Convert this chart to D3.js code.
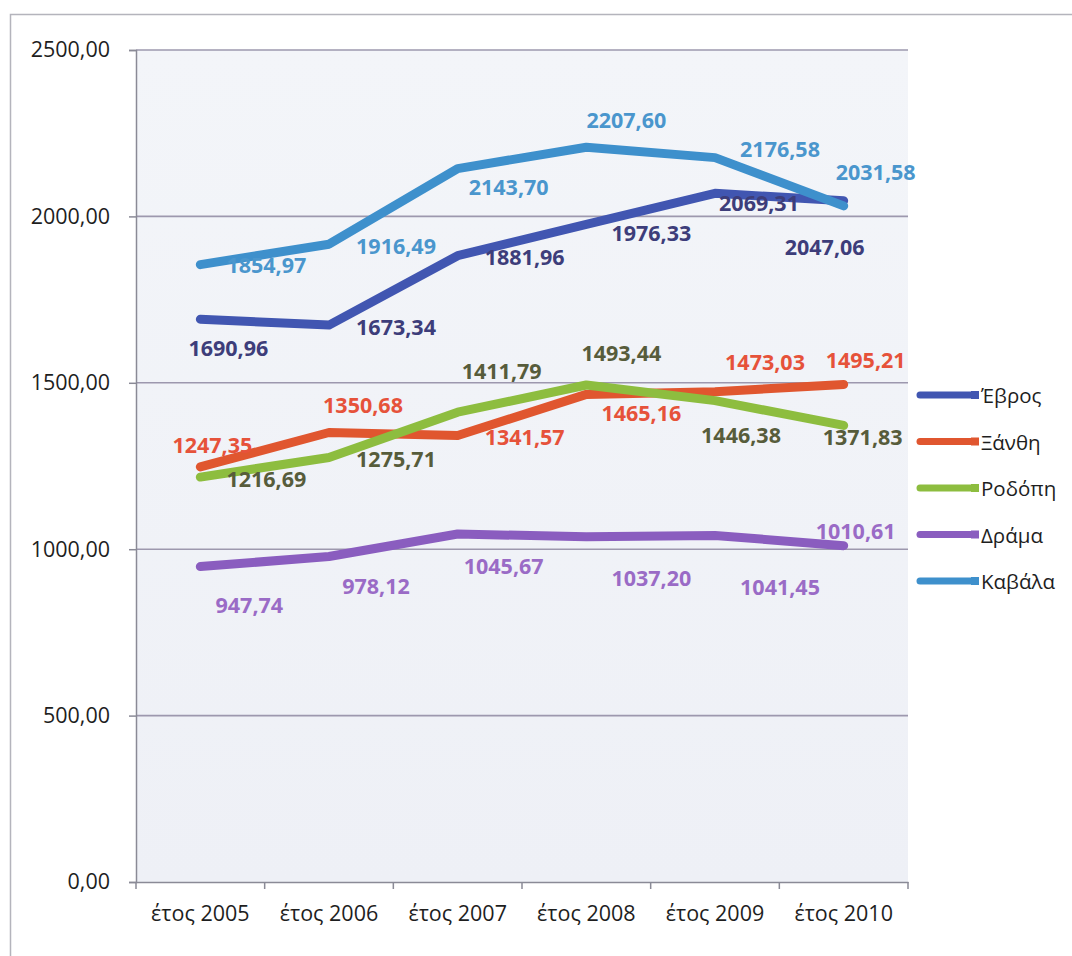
<!DOCTYPE html>
<html>
<head>
<meta charset="utf-8">
<script src="https://cdn.jsdelivr.net/npm/d3@7"></script>
<style>
  html, body { margin: 0; padding: 0; background: #fff; }
  svg { display: block; font-family: "Open Sans", "Noto Sans", sans-serif; }
</style>
</head>
<body>
<div id="chart"></div>
<script>
// κατηγορίες (άξονας x)
var years = ["έτος 2005", "έτος 2006", "έτος 2007", "έτος 2008", "έτος 2009", "έτος 2010"];
var yTicks = [0, 500, 1000, 1500, 2000, 2500];
var seriesNames = ["Έβρος", "Ξάνθη", "Ροδόπη", "Δράμα", "Καβάλα"];

// τιμές ανά νομό
var evros = [1690.96, 1673.34, 1881.96, 1976.33, 2069.31, 2047.06];
var xanthi = [1247.35, 1350.68, 1341.57, 1465.16, 1473.03, 1495.21];
var rodopi = [1216.69, 1275.71, 1411.79, 1493.44, 1446.38, 1371.83];
var drama = [947.74, 978.12, 1045.67, 1037.2, 1041.45, 1010.61];
var kavala = [1854.97, 1916.49, 2143.7, 2207.6, 2176.58, 2031.58];

var seriesValues = [evros, xanthi, rodopi, drama, kavala];

// χρώματα γραμμών και ετικετών
var lineColors = ["#4156b1", "#e0562f", "#8dbd3f", "#8a5dbf", "#3e90cc"];
var labelColors = ["#3d3d7a", "#e6523a", "#575c3b", "#9a6bc6", "#4a96cd"];

// μετατόπιση ετικετών (px) σε σχέση με το σημείο, όπως στο πρωτότυπο
var labelNudge = [
  [[28, 28], [67, 1], [67, 1], [65, 8], [44, 9], [-19, 46]],
  [[12, -22], [34, -28], [67, 1], [55, 18], [50, -30], [22, -25]],
  [[66, 1], [67, 1], [44, -42], [35, -32], [26, 34], [19, 11]],
  [[49, 38], [47, 29], [46, 31], [65, 41], [65, 51], [12, -15]],
  [[66, 0], [67, 1], [51, 18], [40, -28], [65, -9], [32, -34]]
];

var W = 1072, H = 956;
var plot = { left: 136, right: 908, top: 50, bottom: 882 };

var svg = d3.select("#chart").append("svg")
  .attr("width", W).attr("height", H);

// περίγραμμα
svg.append("rect")
  .attr("x", 10.5).attr("y", 14.5)
  .attr("width", W).attr("height", H)
  .attr("fill", "none").attr("stroke", "#b4b4bc").attr("stroke-width", 1.5);

var defs = svg.append("defs");
var grad = defs.append("linearGradient").attr("id", "bg")
  .attr("x1", 0).attr("y1", 0).attr("x2", 0).attr("y2", 1);
grad.append("stop").attr("offset", "0%").attr("stop-color", "#f3f5f9");
grad.append("stop").attr("offset", "100%").attr("stop-color", "#eef0f6");

svg.append("rect")
  .attr("x", plot.left).attr("y", plot.top)
  .attr("width", plot.right - plot.left).attr("height", plot.bottom - plot.top)
  .attr("fill", "url(#bg)");

var x = d3.scaleBand().domain(years).range([plot.left, plot.right]);
var y = d3.scaleLinear().domain([0, 2500]).range([plot.bottom, plot.top]);

// γραμμές πλέγματος
svg.append("g").selectAll("line")
  .data(yTicks.filter(function (d) { return d > 0; }))
  .join("line")
  .attr("x1", plot.left).attr("x2", plot.right)
  .attr("y1", function (d) { return y(d); })
  .attr("y2", function (d) { return y(d); })
  .attr("stroke", "#9d98ae").attr("stroke-width", 1.6);

// άξονας y
var yAxis = svg.append("g")
  .attr("transform", "translate(" + plot.left + ",0)")
  .call(d3.axisLeft(y).tickValues(yTicks).tickSize(7).tickPadding(19)
    .tickFormat(function (d) { return d3.format(".2f")(d).replace(".", ","); }));
yAxis.select(".domain").attr("stroke", "#8a8a96").attr("stroke-width", 1.5);
yAxis.selectAll(".tick line").attr("stroke", "#8a8a96").attr("stroke-width", 1.5);
yAxis.selectAll("text").attr("font-size", 21.5).attr("fill", "#1e1e1e")
  .attr("font-family", "Open Sans");

// άξονας x
var xAxis = svg.append("g")
  .attr("transform", "translate(0," + plot.bottom + ")")
  .call(d3.axisBottom(x).tickSize(0).tickPadding(24));
xAxis.select(".domain").attr("stroke", "#8a8a96").attr("stroke-width", 1.6);
xAxis.selectAll("text").attr("font-size", 21.5).attr("fill", "#1e1e1e")
  .attr("font-family", "Open Sans");
// υποδιαιρέσεις ανάμεσα στις κατηγορίες
xAxis.selectAll(".sep")
  .data(years.concat(["end"]))
  .join("line")
  .attr("class", "sep")
  .attr("x1", function (d, i) { return plot.left + i * x.step(); })
  .attr("x2", function (d, i) { return plot.left + i * x.step(); })
  .attr("y1", 0).attr("y2", 7)
  .attr("stroke", "#8a8a96").attr("stroke-width", 1.5);

var line = d3.line()
  .x(function (d, i) { return x(years[i]) + x.bandwidth() / 2; })
  .y(function (d) { return y(d); });

// γραμμές σειρών
svg.append("g").selectAll("path")
  .data(seriesValues)
  .join("path")
  .attr("d", line)
  .attr("fill", "none")
  .attr("stroke", function (d, i) { return lineColors[i]; })
  .attr("stroke-width", 9)
  .attr("stroke-linejoin", "round")
  .attr("stroke-linecap", "round");

// ετικέτες τιμών
var fmt = function (v) { return d3.format(".2f")(v).replace(".", ","); };
seriesValues.forEach(function (vals, s) {
  svg.append("g").selectAll("text")
    .data(vals)
    .join("text")
    .attr("x", function (d, i) { return x(years[i]) + x.bandwidth() / 2 + labelNudge[s][i][0]; })
    .attr("y", function (d, i) { return y(d) + labelNudge[s][i][1]; })
    .attr("text-anchor", "middle")
    .attr("dominant-baseline", "central")
    .attr("font-size", 21.5)
    .attr("font-weight", 700)
    .attr("fill", labelColors[s])
    .text(fmt);
});

// υπόμνημα
var legend = svg.append("g");
var legendY = d3.scalePoint().domain(seriesNames).range([395, 581]);
var items = legend.selectAll("g")
  .data(seriesNames)
  .join("g")
  .attr("transform", function (d) { return "translate(0," + legendY(d) + ")"; });
items.append("line")
  .attr("x1", 920).attr("x2", 974).attr("y1", 0).attr("y2", 0)
  .attr("stroke", function (d, i) { return lineColors[i]; })
  .attr("stroke-width", 7).attr("stroke-linecap", "round");
items.append("rect")
  .attr("x", 971).attr("y", -4).attr("width", 8).attr("height", 8)
  .attr("fill", function (d, i) { return lineColors[i]; });
items.append("text")
  .attr("x", 981).attr("y", 0)
  .attr("dominant-baseline", "central")
  .attr("font-size", 20.5)
  .attr("fill", "#1e1e1e")
  .text(function (d) { return d; });
</script>
</body>
</html>
